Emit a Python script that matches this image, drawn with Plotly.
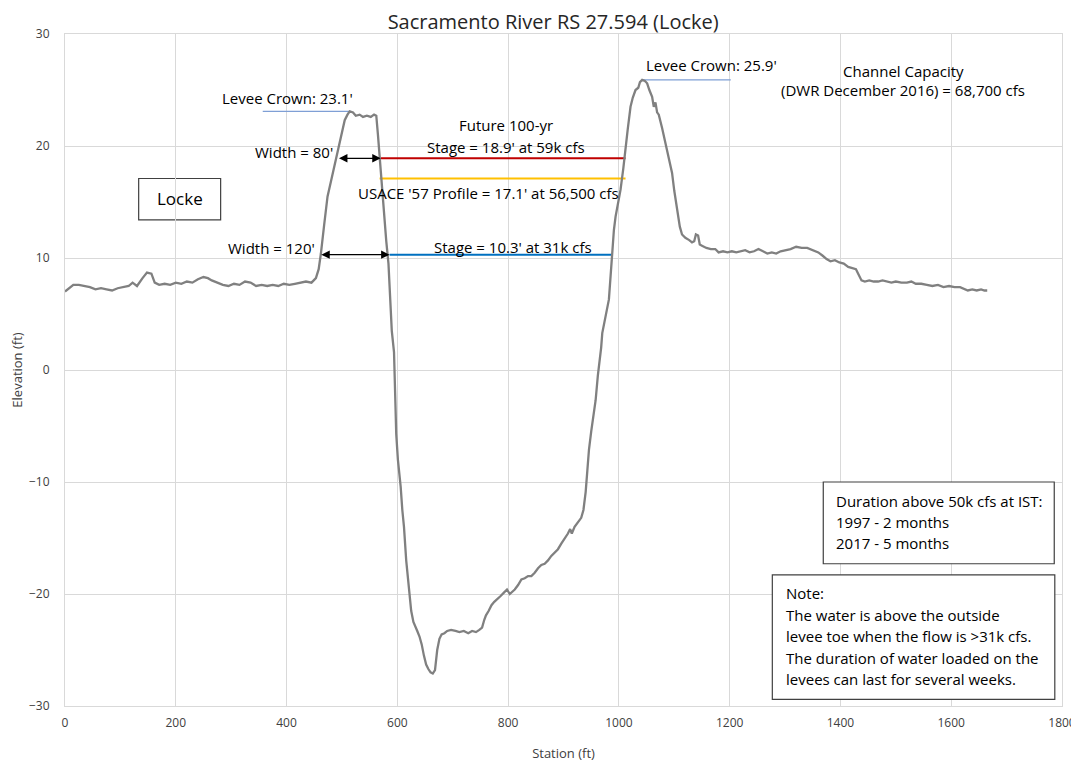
import plotly.graph_objects as go

# ground profile (station ft, elevation ft)
station = [
    0, 8, 15, 25, 35, 45, 55, 65, 75, 85, 95, 105, 115, 122, 130, 140, 148, 156, 162, 170,
    180, 190, 200, 210, 220, 230, 240, 250, 258, 265, 275, 285, 295, 305, 315, 325, 335, 345,
    355, 365, 375, 385, 395, 405, 415, 425, 435, 445, 453, 458, 462, 468, 474, 480, 488, 495,
    500, 505, 510, 514, 520, 525, 532, 538, 545, 552, 558, 562, 565, 568, 574, 580, 584, 588,
    590, 594, 596, 598, 601, 606, 609, 612, 616, 621, 625, 629, 632, 636, 640, 644, 648, 652,
    656, 660, 664, 668, 672, 676, 680, 685, 690, 697, 705, 712, 720, 728, 735, 742, 748, 753,
    757, 760, 765, 770, 775, 780, 786, 792, 798, 803, 808, 812, 818, 824, 830, 836, 842, 848,
    854, 860, 866, 872, 878, 884, 890, 896, 902, 908, 912, 915, 920, 926, 932, 936, 940, 943,
    946, 950, 955, 958, 962, 964, 968, 970, 974, 978, 982, 985, 988, 991, 994, 998, 1003, 1008,
    1012, 1016, 1021, 1025, 1030, 1035, 1038, 1042, 1047, 1051, 1055, 1060, 1063, 1066, 1069,
    1072, 1078, 1084, 1090, 1096, 1100, 1105, 1110, 1114, 1120, 1127, 1132, 1136, 1139, 1143,
    1146, 1150, 1158, 1166, 1174, 1180, 1188, 1196, 1204, 1212, 1220, 1228, 1236, 1244, 1252,
    1260, 1268, 1276, 1284, 1292, 1300, 1310, 1320, 1330, 1340, 1350, 1360, 1368, 1375, 1382,
    1390, 1398, 1406, 1414, 1422, 1428, 1432, 1438, 1444, 1452, 1460, 1468, 1476, 1484, 1492,
    1500, 1510, 1520, 1528, 1536, 1546, 1556, 1566, 1576, 1586, 1596, 1606, 1616, 1624, 1630,
    1638, 1646, 1654, 1660, 1665,
]
elevation = [
    7.0, 7.3, 7.6, 7.6, 7.5, 7.4, 7.2, 7.3, 7.2, 7.1, 7.3, 7.4, 7.5, 7.8, 7.5, 8.2, 8.7, 8.6, 7.8, 7.6,
    7.7, 7.6, 7.8, 7.7, 7.9, 7.8, 8.1, 8.3, 8.2, 8.0, 7.8, 7.6, 7.5, 7.7, 7.6, 7.9, 7.8, 7.5,
    7.6, 7.5, 7.6, 7.5, 7.7, 7.6, 7.7, 7.8, 7.9, 7.8, 8.2, 9.0, 10.4, 13.0, 15.5, 16.8, 18.5, 19.9,
    21.0, 22.3, 22.8, 23.1, 23.0, 22.7, 22.8, 22.6, 22.7, 22.6, 22.8, 22.7, 21.0, 19.0, 15.0, 11.5, 9.5, 5.5,
    3.5, 1.6, -2.0, -5.7, -8.0, -10.4, -12.5, -14.0, -17.0, -19.9, -21.5, -22.5, -22.8, -23.3, -23.8, -24.5, -25.5, -26.3,
    -26.7, -27.0, -27.1, -26.8, -25.0, -24.0, -23.6, -23.5, -23.3, -23.2, -23.3, -23.4, -23.3, -23.5, -23.3, -23.4, -23.2, -23.0,
    -22.3, -21.9, -21.5, -21.0, -20.7, -20.5, -20.2, -19.9, -19.6, -20.0, -19.8, -19.6, -19.2, -18.7, -18.6, -18.4, -18.4, -18.1,
    -17.7, -17.4, -17.3, -17.0, -16.6, -16.3, -16.0, -15.5, -15.1, -14.6, -14.2, -14.6, -14.0, -13.6, -13.2, -12.5, -10.9, -9.0,
    -7.1, -5.5, -3.8, -2.7, -0.5, 0.3, 2.0, 3.3, 4.5, 5.3, 6.3, 8.5, 11.0, 12.5, 13.7, 14.8, 16.1, 18.0,
    19.9, 21.5, 23.5, 24.3, 25.0, 25.2, 25.7, 25.9, 25.8, 25.6, 25.0, 24.4, 23.5, 23.9, 23.0,
    22.8, 21.6, 20.2, 19.0, 17.6, 16.0, 14.3, 12.8, 12.1, 11.8, 11.6, 11.4, 11.5, 12.1, 12.0,
    11.2, 11.1, 10.9, 10.8, 10.8, 10.5, 10.6, 10.5, 10.6, 10.5, 10.6, 10.7, 10.5, 10.6, 10.8,
    10.6, 10.4, 10.5, 10.4, 10.6, 10.7, 10.8, 11.0, 10.9, 10.9, 10.7, 10.5, 10.2, 9.9, 9.7,
    9.8, 9.6, 9.5, 9.2, 9.1, 9.0, 8.6, 8.0, 7.9, 8.0, 7.9, 7.9, 8.0, 7.9, 7.8,
    7.9, 7.8, 7.8, 7.9, 7.7, 7.7, 7.6, 7.5, 7.6, 7.4, 7.5, 7.4, 7.4, 7.2, 7.1,
    7.2, 7.1, 7.2, 7.1, 7.1,
]

# water surface lines: level, start station, end station, colour
stage_levels = [18.9, 17.1, 10.3]
stage_start = [570, 568, 586]
stage_end = [1012, 1012, 988]
stage_colors = ["#C00000", "#FFC000", "#0070C0"]

# levee crown marker lines
crown_levels = [23.1, 25.9]
crown_start = [357, 1042]
crown_end = [516, 1202]

# width arrows
width_levels = [18.9, 10.3]
width_start = [492, 460]
width_end = [570, 586]
width_labels = ["Width = 80'", "Width = 120'"]

FONT = "'Open Sans', Lato, sans-serif"
TXT = 15

fig = go.Figure()

for lvl, s0, s1, c in zip(stage_levels, stage_start, stage_end, stage_colors):
    fig.add_trace(go.Scatter(x=[s0, s1], y=[lvl, lvl], mode="lines",
                             line=dict(color=c, width=2), hoverinfo="skip"))

for lvl, s0, s1 in zip(crown_levels, crown_start, crown_end):
    fig.add_trace(go.Scatter(x=[s0, s1], y=[lvl, lvl], mode="lines",
                             line=dict(color="#7F9FD5", width=1.2), hoverinfo="skip"))

fig.add_trace(go.Scatter(x=station, y=elevation, mode="lines",
                         line=dict(color="#808080", width=2.3)))

annotations = []
# double headed width arrows
for lvl, s0, s1, lab in zip(width_levels, width_start, width_end, width_labels):
    annotations.append(dict(x=s1, y=lvl, ax=s0, ay=lvl, xref="x", yref="y",
                            axref="x", ayref="y", showarrow=True, arrowside="end+start",
                            arrowhead=2, arrowsize=1.3, arrowwidth=1.3, arrowcolor="black",
                            text=""))
    annotations.append(dict(x=s0 - 5, y=lvl + 0.6, xref="x", yref="y", text=lab,
                            showarrow=False, xanchor="right", yanchor="middle",
                            font=dict(size=TXT, color="black")))

texts = [
    ("Levee Crown: 23.1'", 401, 24.3),
    ("Levee Crown: 25.9'", 1167, 27.2),
    ("Channel Capacity", 1513, 26.7),
    ("(DWR December 2016) = 68,700 cfs", 1513, 25.0),
    ("Future 100-yr", 796, 21.9),
    ("Stage = 18.9' at 59k cfs", 796, 19.9),
    ("USACE '57 Profile = 17.1' at 56,500 cfs", 764, 15.8),
    ("Stage = 10.3' at 31k cfs", 809, 11.0),
]
for t, x, y in texts:
    annotations.append(dict(x=x, y=y, xref="x", yref="y", text=t, showarrow=False,
                            xanchor="center", yanchor="middle", font=dict(size=TXT, color="black")))

annotations.append(dict(x=207, y=15.3, xref="x", yref="y", text="Locke", showarrow=False,
                        xanchor="center", yanchor="middle", font=dict(size=17, color="black")))

duration_lines = ["Duration above 50k cfs at IST:", "1997 - 2 months", "2017 - 5 months"]
for i, t in enumerate(duration_lines):
    annotations.append(dict(x=1389, y=-11.7 - 1.87 * i, xref="x", yref="y", text=t,
                            showarrow=False, xanchor="left", yanchor="middle",
                            font=dict(size=TXT, color="black")))

note_lines = ["Note:", "The water is above the outside", "levee toe when the flow is >31k cfs.",
              "The duration of water loaded on the", "levees can last for several weeks."]
for i, t in enumerate(note_lines):
    annotations.append(dict(x=1298, y=-19.9 - 1.93 * i, xref="x", yref="y", text=t,
                            showarrow=False, xanchor="left", yanchor="middle",
                            font=dict(size=TXT, color="black")))

shapes = [
    dict(type="rect", xref="x", yref="y", x0=133, x1=281, y0=13.4, y1=17.1,
         line=dict(color="#404040", width=1.2), fillcolor="white", layer="below"),
    dict(type="rect", xref="x", yref="y", x0=1369, x1=1786, y0=-17.3, y1=-10.0,
         line=dict(color="#404040", width=1.2), fillcolor="white"),
    dict(type="rect", xref="x", yref="y", x0=1277, x1=1787, y0=-29.4, y1=-18.3,
         line=dict(color="#404040", width=1.2), fillcolor="white"),
]

# the page body adds an 8px offset, so the figure is drawn 8px smaller
fig.update_layout(
    width=1071, height=754,
    margin=dict(l=57, r=17, t=26, b=56),
    paper_bgcolor="white", plot_bgcolor="white",
    showlegend=False,
    font=dict(family=FONT, color="black"),
    title=dict(text="Sacramento River RS 27.594 (Locke)", x=0.509, xanchor="center",
               y=0.981, yanchor="middle", font=dict(size=20, color="#262626")),
    xaxis=dict(range=[0, 1800], dtick=200, showgrid=True, gridcolor="#D9D9D9",
               zeroline=False, showline=True, linecolor="#D9D9D9", mirror=True,
               automargin=False,
               ticks="", ticklabelstandoff=6, tickfont=dict(size=12, color="#404040"),
               title=dict(text="Station (ft)", font=dict(size=13, color="#404040"), standoff=18)),
    yaxis=dict(range=[-30, 30], dtick=10, showgrid=True, gridcolor="#D9D9D9",
               zeroline=False, showline=True, linecolor="#D9D9D9", mirror=True,
               automargin=False,
               ticks="", ticklabelstandoff=12, tickfont=dict(size=12, color="#404040"),
               title=dict(text="Elevation (ft)", font=dict(size=13, color="#404040"), standoff=4)),
    annotations=annotations,
    shapes=shapes,
)

fig.write_html("out.html")
